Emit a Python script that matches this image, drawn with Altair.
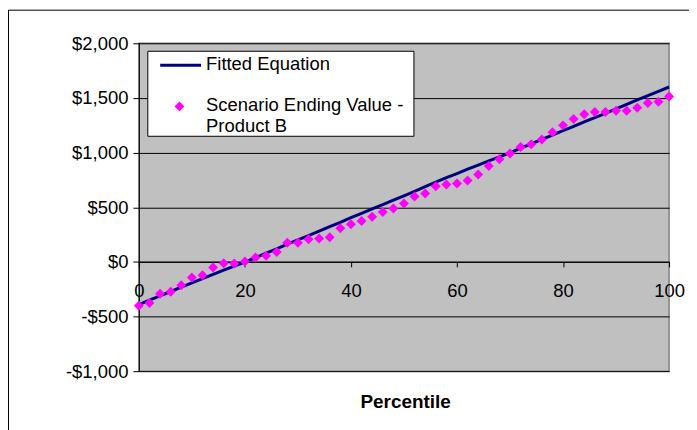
import altair as alt
import pandas as pd

# ---- data ----
percentile = list(range(0, 101, 2))
scenario_values = [-401, -377, -292, -274, -213, -143, -122, -52, -12, -15,
                   3, 40, 55, 91, 175, 175, 207, 213, 225, 307,
                   344, 374, 413, 456, 489, 535, 599, 626, 693, 708,
                   717, 745, 800, 878, 939, 991, 1052, 1076, 1119, 1186,
                   1249, 1307, 1350, 1371, 1371, 1383, 1383, 1411, 1453, 1465,
                   1514]
fitted_values = [-390, -350, -310, -271, -231, -191, -153, -115, -76, -38,
                 -2, 38, 80, 120, 162, 202, 240, 282, 322, 362,
                 404, 444, 484, 524, 565, 605, 646, 688, 729, 770,
                 808, 848, 886, 925, 960, 998, 1040, 1080, 1120, 1160,
                 1200, 1240, 1280, 1320, 1359, 1400, 1442, 1482, 1522, 1561,
                 1600]
y_ticks = [-1000, -500, 0, 500, 1000, 1500, 2000]
x_ticks = [0, 20, 40, 60, 80, 100]
legend_labels = ["Fitted Equation", "Scenario Ending Value -", "Product B"]
x_title = "Percentile"

df = pd.DataFrame({"Percentile": percentile,
                   "Scenario": scenario_values,
                   "Fitted": fitted_values})

W, H = 532, 329
FONT = "Liberation Sans"
FS = 18.5
NAVY = "#000080"
MAGENTA = "#FF00FF"
PT_SIZE = 100

x_scale = alt.Scale(domain=[0, 100], nice=False)
y_scale = alt.Scale(domain=[-1000, 2000], nice=False)

x_axis = alt.Axis(values=x_ticks, orient="bottom", offset=-H / 3.0, grid=False,
                  domainColor="black", domainWidth=1, tickColor="black", tickSize=5,
                  labelFont=FONT, labelFontSize=FS, labelColor="black",
                  labelPadding=15, labelFlush=False, labelOverlap=False, title=None)
y_axis = alt.Axis(values=y_ticks, orient="left", grid=True, gridColor="black",
                  gridWidth=1, gridOpacity=1, domainColor="black", domainWidth=1,
                  tickColor="black", tickSize=6, labelFont=FONT, labelFontSize=FS,
                  labelColor="black", labelPadding=5, labelFlush=False,
                  labelOverlap=False, title=None,
                  labelExpr="datum.value < 0 ? '-$' + format(-datum.value, ',') : '$' + format(datum.value, ',')")

line = alt.Chart(df).mark_line(color=NAVY, strokeWidth=3).encode(
    x=alt.X("Percentile:Q", scale=x_scale, axis=x_axis),
    y=alt.Y("Fitted:Q", scale=y_scale, axis=y_axis),
)
points = alt.Chart(df).mark_point(shape="diamond", filled=True, color=MAGENTA,
                                  size=PT_SIZE, opacity=1).encode(
    x=alt.X("Percentile:Q", scale=x_scale, axis=x_axis),
    y=alt.Y("Scenario:Q", scale=y_scale, axis=y_axis),
)

one = alt.Data(values=[{}])

border_top = alt.Chart(one).mark_rule(color="black", strokeWidth=1).encode(
    x=alt.value(-131), x2=alt.value(560), y=alt.value(-33.2))
border_left = alt.Chart(one).mark_rule(color="black", strokeWidth=1).encode(
    x=alt.value(-130.8), y=alt.value(-33.2), y2=alt.value(420))

legend_box = alt.Chart(one).mark_rect(fill="white", stroke="black", strokeWidth=1).encode(
    x=alt.value(9), x2=alt.value(276), y=alt.value(8), y2=alt.value(93.3))
legend_line = alt.Chart(one).mark_rule(color=NAVY, strokeWidth=3).encode(
    x=alt.value(21.4), x2=alt.value(62.4), y=alt.value(22))
legend_pt = alt.Chart(one).mark_point(shape="diamond", filled=True, color=MAGENTA,
                                      size=PT_SIZE, opacity=1).encode(
    x=alt.value(40.7), y=alt.value(63.3))


def txt(s, x, y, **kw):
    return alt.Chart(one).mark_text(text=s, align=kw.pop("align", "left"),
                                    baseline="alphabetic", font=FONT,
                                    fontSize=kw.pop("fontSize", FS),
                                    color="black", **kw).encode(
        x=alt.value(x), y=alt.value(y))


legend_t1 = txt(legend_labels[0], 67.4, 26.6)
legend_t2 = txt(legend_labels[1], 67.4, 68)
legend_t3 = txt(legend_labels[2], 67.4, 89)
title_t = txt(x_title, 267.7, 365.6, align="center", fontSize=19, fontWeight="bold")

chart = alt.layer(
    line, points, border_top, border_left,
    legend_box, legend_line, legend_pt, legend_t1, legend_t2, legend_t3, title_t,
).properties(
    width=W, height=H,
    autosize=alt.AutoSizeParams(type="none"),
    padding={"left": 131.3, "top": 34.7, "right": 20, "bottom": 60},
    background="white",
).configure_view(
    fill="#C0C0C0", stroke="#808080", strokeWidth=1.5
)

chart.save("out.html", embed_options={"renderer": "svg", "actions": False})
